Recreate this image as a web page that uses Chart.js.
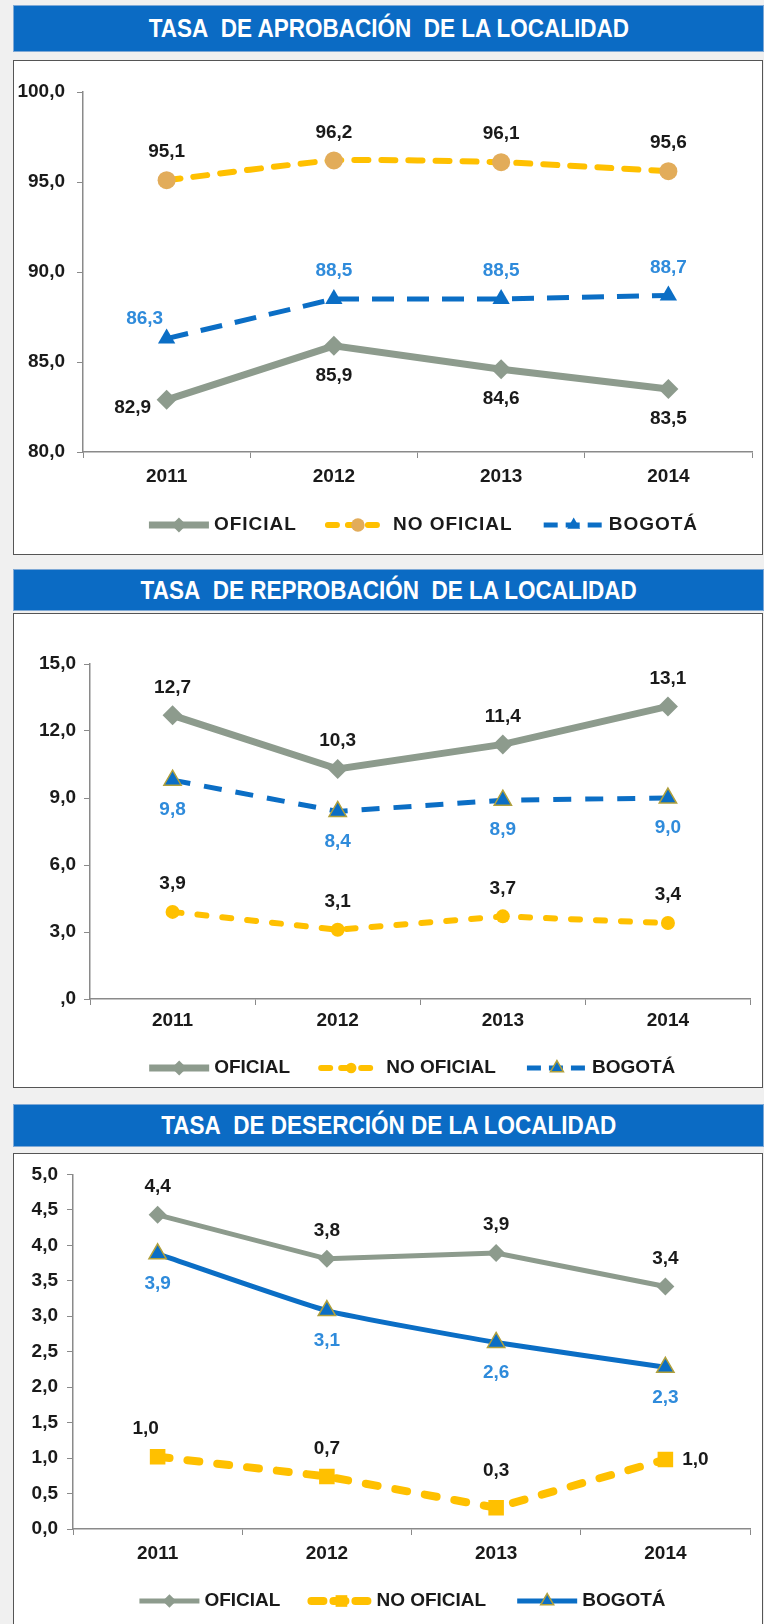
<!DOCTYPE html>
<html>
<head>
<meta charset="utf-8">
<script src="https://cdn.jsdelivr.net/npm/chart.js@4.4.1/dist/chart.umd.min.js"></script>
<style>
  body { margin: 0; background: #f0f0f0; width: 764px; height: 1624px; position: relative; overflow: hidden;
         font-family: "Liberation Sans", Arial, sans-serif; }
  .hdr { position: absolute; left: 13px; width: 751px; background: #0b6bc4; color: #fff; font-weight: bold;
         font-size: 25px; text-align: center; box-sizing: border-box; border: 1px solid #7fa9d6; white-space: nowrap; }
  .hdr span { display: inline-block; transform: scaleX(0.9); }
  .box { position: absolute; left: 13px; width: 750px; background: #fff; border: 1px solid #555; box-sizing: border-box; overflow: hidden; }
  .box canvas { position: absolute; left: 0; top: 0; }
</style>
</head>
<body>
<div class="hdr" style="top:5px;height:47px;line-height:45px;"><span>TASA&nbsp; DE APROBACIÓN&nbsp; DE LA LOCALIDAD</span></div>
<div class="box" style="top:60px;height:495px;"><canvas id="chartAprob" width="748" height="493"></canvas></div>
<div class="hdr" style="top:569px;height:42px;line-height:40px;"><span>TASA&nbsp; DE REPROBACIÓN&nbsp; DE LA LOCALIDAD</span></div>
<div class="box" style="top:613px;height:475px;"><canvas id="chartReprob" width="748" height="473"></canvas></div>
<div class="hdr" style="top:1104px;height:43px;line-height:41px;"><span>TASA&nbsp; DE DESERCIÓN DE LA LOCALIDAD</span></div>
<div class="box" style="top:1153px;height:480px;"><canvas id="chartDeserc" width="748" height="478"></canvas></div>

<script>
// data
const years = ['2011', '2012', '2013', '2014'];
const seriesNames = ['OFICIAL', 'NO OFICIAL', 'BOGOTÁ'];

const aprobOficial = [82.9, 85.9, 84.6, 83.5];
const aprobNoOficial = [95.1, 96.2, 96.1, 95.6];
const aprobBogota = [86.3, 88.5, 88.5, 88.7];

const reprobOficial = [12.7, 10.3, 11.4, 13.1];
const reprobNoOficial = [3.9, 3.1, 3.7, 3.4];
const reprobBogota = [9.8, 8.4, 8.9, 9.0];

const desercOficial = [4.43, 3.81, 3.89, 3.42];
const desercNoOficial = [1.02, 0.74, 0.30, 0.98];
const desercBogota = [3.88, 3.08, 2.63, 2.28];

const FONT = '"Liberation Sans", Arial, sans-serif';
const GRAY = '#8d9b8d';
const YELLOW = '#ffc000';
const BLUE = '#0b6ec5';
const BLUE_TEXT = '#2f8bdb';
const BLACK = '#1a1a1a';
const AXIS = '#8a8a8a';

const fmt = v => v.toFixed(1).replace('.', ',');

// where each value label sits relative to its point
const labelOffsets = {
    above: [0, -28],
    aboveFar: [0, -37],
    below: [0, 30],
    left: [-34, 8],
    aboveLeft: [-22, -20],
    aboveLeftSmall: [-12, -28],
    right: [30, 0]
};

const valueLabels = {
    id: 'valueLabels',
    afterDatasetsDraw(chart) {
        const ctx = chart.ctx;
        ctx.save();
        ctx.font = 'bold 19px ' + FONT;
        ctx.textAlign = 'center';
        ctx.textBaseline = 'middle';
        chart.data.datasets.forEach((ds, i) => {
            const meta = chart.getDatasetMeta(i);
            meta.data.forEach((pt, j) => {
                const off = labelOffsets[ds.labelPos[j]];
                ctx.fillStyle = ds.labelColor;
                ctx.fillText(fmt(ds.data[j]), pt.x + off[0], pt.y + off[1]);
            });
        });
        ctx.restore();
    }
};

// Excel style legend: line sample with the marker in the middle
const sampleLegend = {
    id: 'sampleLegend',
    afterDraw(chart, args, opts) {
        const ctx = chart.ctx;
        const sw = 60, gapText = 5, gapItem = 31;
        ctx.save();
        ctx.font = 'bold 19px ' + FONT;
        if ('letterSpacing' in ctx) ctx.letterSpacing = opts.spacing + 'px';
        const items = chart.data.datasets.map(ds => ({ ds: ds, tw: ctx.measureText(ds.label).width }));
        const total = items.reduce((s, it) => s + sw + gapText + it.tw, 0) + gapItem * (items.length - 1);
        let x = (chart.chartArea.left + chart.chartArea.right) / 2 + opts.dx - total / 2;
        const y = opts.y;
        items.forEach(it => {
            const ds = it.ds;
            ctx.strokeStyle = ds.borderColor;
            ctx.lineWidth = ds.borderWidth;
            ctx.lineCap = ds.borderCapStyle || 'butt';
            ctx.setLineDash(ds.legendDash || []);
            ctx.beginPath();
            ctx.moveTo(x, y);
            ctx.lineTo(x + sw, y);
            ctx.stroke();
            ctx.setLineDash([]);
            ctx.fillStyle = ds.pointBackgroundColor;
            ctx.strokeStyle = ds.pointBorderColor;
            ctx.lineWidth = ds.pointBorderWidth;
            Chart.helpers.drawPoint(ctx, {
                pointStyle: ds.pointStyle, radius: ds.pointRadius * 0.75,
                borderWidth: ds.pointBorderWidth, rotation: 0
            }, x + sw / 2, y);
            ctx.fillStyle = BLACK;
            ctx.textAlign = 'left';
            ctx.textBaseline = 'middle';
            ctx.fillText(ds.label, x + sw + gapText, y);
            x += sw + gapText + it.tw + gapItem;
        });
        ctx.restore();
    }
};

function makeChart(id, datasets, ax) {
    const ctx = document.getElementById(id).getContext('2d');
    return new Chart(ctx, {
        type: 'line',
        data: { labels: years, datasets: datasets },
        options: {
            responsive: false,
            animation: false,
            devicePixelRatio: 1,
            layout: { padding: { top: ax.top, right: ax.right, left: 0, bottom: 0 } },
            plugins: {
                legend: { display: false },
                tooltip: { enabled: false },
                sampleLegend: { y: ax.legendY, dx: ax.legendDx, spacing: ax.legendSpacing }
            },
            scales: {
                x: {
                    offset: true,
                    grid: { offset: true, drawOnChartArea: false, tickLength: 6, color: AXIS },
                    border: { color: AXIS, width: 1.5 },
                    ticks: { color: BLACK, font: { family: FONT, size: 19, weight: 'bold' }, padding: ax.xPad },
                    afterFit: s => { s.height = ax.xHeight; }
                },
                y: {
                    min: ax.min, max: ax.max,
                    grid: { drawOnChartArea: false, tickLength: 6, color: AXIS },
                    border: { color: AXIS, width: 1.5 },
                    ticks: {
                        stepSize: ax.step, color: BLACK, padding: ax.yPad,
                        font: { family: FONT, size: 19, weight: 'bold' },
                        callback: ax.tickFmt
                    },
                    afterFit: s => { s.width = ax.yWidth; }
                }
            }
        },
        plugins: [valueLabels, sampleLegend]
    });
}

// TASA DE APROBACIÓN
makeChart('chartAprob', [
    {
        label: seriesNames[0], data: aprobOficial, borderColor: GRAY, borderWidth: 7,
        pointStyle: 'rectRot', pointRadius: 10, pointBackgroundColor: GRAY, pointBorderColor: GRAY, pointBorderWidth: 0,
        labelColor: BLACK, labelPos: ['left', 'below', 'below', 'below']
    },
    {
        label: seriesNames[1], data: aprobNoOficial, borderColor: YELLOW, borderWidth: 6,
        borderDash: [14, 13], legendDash: [9, 11], borderCapStyle: 'round', tension: 0.15,
        pointStyle: 'circle', pointRadius: 9, pointBackgroundColor: '#e2ac5a', pointBorderColor: '#e2ac5a', pointBorderWidth: 0,
        labelColor: BLACK, labelPos: ['above', 'above', 'above', 'above']
    },
    {
        label: seriesNames[2], data: aprobBogota, borderColor: BLUE, borderWidth: 5,
        borderDash: [22, 13], legendDash: [14, 8],
        pointStyle: 'triangle', pointRadius: 10, pointBackgroundColor: BLUE, pointBorderColor: BLUE, pointBorderWidth: 0,
        labelColor: BLUE_TEXT, labelPos: ['aboveLeft', 'above', 'above', 'above']
    }
], { min: 80, max: 100, step: 5, top: 31, right: 8, yWidth: 69, xHeight: 102, xPad: 7, yPad: 12,
     legendY: 464, legendDx: 6, legendSpacing: 1, tickFmt: v => fmt(v) });

// TASA DE REPROBACIÓN
makeChart('chartReprob', [
    {
        label: seriesNames[0], data: reprobOficial, borderColor: GRAY, borderWidth: 7,
        pointStyle: 'rectRot', pointRadius: 10, pointBackgroundColor: GRAY, pointBorderColor: GRAY, pointBorderWidth: 0,
        labelColor: BLACK, labelPos: ['above', 'above', 'above', 'above']
    },
    {
        label: seriesNames[1], data: reprobNoOficial, borderColor: YELLOW, borderWidth: 6,
        borderDash: [9, 16], legendDash: [9, 11], borderCapStyle: 'round',
        pointStyle: 'circle', pointRadius: 7, pointBackgroundColor: YELLOW, pointBorderColor: YELLOW, pointBorderWidth: 0,
        labelColor: BLACK, labelPos: ['above', 'above', 'above', 'above']
    },
    {
        label: seriesNames[2], data: reprobBogota, borderColor: BLUE, borderWidth: 5,
        borderDash: [18, 14], legendDash: [14, 8],
        pointStyle: 'triangle', pointRadius: 10, pointBackgroundColor: BLUE, pointBorderColor: '#b0a03c', pointBorderWidth: 1.5,
        labelColor: BLUE_TEXT, labelPos: ['below', 'below', 'below', 'below']
    }
], { min: 0, max: 15, step: 3, top: 50, right: 6, yWidth: 76, xHeight: 88, xPad: 4, yPad: 8,
     legendY: 454, legendDx: -8, legendSpacing: 0, tickFmt: v => v === 0 ? ',0' : fmt(v) });

// TASA DE DESERCIÓN
makeChart('chartDeserc', [
    {
        label: seriesNames[0], data: desercOficial, borderColor: GRAY, borderWidth: 5,
        pointStyle: 'rectRot', pointRadius: 9, pointBackgroundColor: GRAY, pointBorderColor: GRAY, pointBorderWidth: 0,
        labelColor: BLACK, labelPos: ['above', 'above', 'above', 'above']
    },
    {
        label: seriesNames[1], data: desercNoOficial, borderColor: YELLOW, borderWidth: 8,
        borderDash: [12, 18], legendDash: [12, 10], borderCapStyle: 'round',
        pointStyle: 'rect', pointRadius: 11, pointBackgroundColor: YELLOW, pointBorderColor: YELLOW, pointBorderWidth: 0,
        labelColor: BLACK, labelPos: ['aboveLeftSmall', 'above', 'aboveFar', 'right']
    },
    {
        label: seriesNames[2], data: desercBogota, borderColor: BLUE, borderWidth: 5, tension: 0.15,
        pointStyle: 'triangle', pointRadius: 10, pointBackgroundColor: BLUE, pointBorderColor: '#b0a03c', pointBorderWidth: 1.5,
        labelColor: BLUE_TEXT, labelPos: ['below', 'below', 'below', 'below']
    }
], { min: 0, max: 5, step: 0.5, top: 19, right: 12, yWidth: 59, xHeight: 103, xPad: 7, yPad: 9,
     legendY: 447, legendDx: -9, legendSpacing: 0, tickFmt: v => fmt(v) });
</script>
</body>
</html>
